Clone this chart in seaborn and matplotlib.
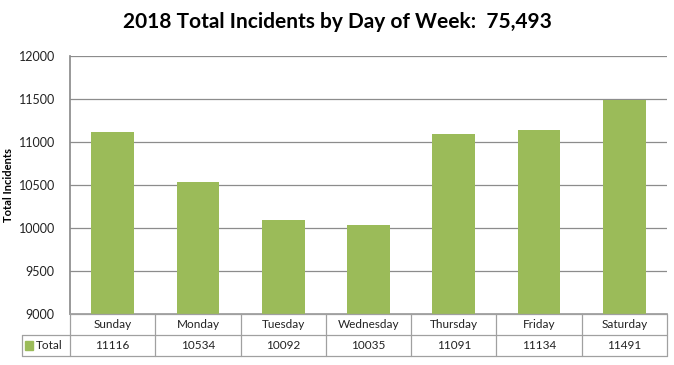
import matplotlib
matplotlib.use("Agg")
import matplotlib.pyplot as plt
import seaborn as sns
import pandas as pd

days = ["Sunday", "Monday", "Tuesday", "Wednesday", "Thursday", "Friday", "Saturday"]
totals = [11116, 10534, 10092, 10035, 11091, 11134, 11491]
yticks = [9000, 9500, 10000, 10500, 11000, 11500, 12000]
title = "2018 Total Incidents by Day of Week:  75,493"
series_name = "Total"

sns.set_theme(style="white")
plt.rcParams["font.family"] = ["Lato", "DejaVu Sans"]

W, H = 674, 365
fig = plt.figure(figsize=(W / 100, H / 100), dpi=100)
green = "#9BBB59"
grid_c = "#8C8C8C"
border_c = "#A0A0A0"

ax_l, ax_r, ax_t, ax_b = 70, 667, 56, 314
ax = fig.add_axes([ax_l / W, 1 - ax_b / H, (ax_r - ax_l) / W, (ax_b - ax_t) / H])
df = pd.DataFrame({"day": days, "total": totals})
sns.barplot(data=df, x="day", y="total", color=green, saturation=1, width=0.5, ax=ax,
            zorder=3, linewidth=0, edgecolor="none")
ax.set_ylim(9000, 12000)
ax.set_xlim(-0.5, len(days) - 0.5)
ax.set_yticks(yticks)
ax.set_yticklabels([str(v) for v in yticks], fontsize=9, color="#222222")
ax.set_xticks([])
ax.set_xlabel("")
ax.set_ylabel("Total Incidents", fontsize=8, fontweight="bold", color="black")
ax.yaxis.set_label_coords((14 - ax_l) / (ax_r - ax_l), 0.5)
ax.yaxis.grid(True, color=grid_c, linewidth=0.9, zorder=0)
ax.tick_params(axis="y", length=0, pad=11)
for s in ["top", "right"]:
    ax.spines[s].set_visible(False)
ax.spines["left"].set_color(grid_c)
ax.spines["bottom"].set_color(border_c)

fig.text(0.5, 1 - 22 / H, title, ha="center", va="center", fontsize=15, fontweight="bold", color="black")

# data table below the plot
tb_l, tb_r, tb_t, tb_b = 22, 667, 314, 356
tx = fig.add_axes([tb_l / W, 1 - tb_b / H, (tb_r - tb_l) / W, (tb_b - tb_t) / H])
cat_w = (ax_r - ax_l) / len(days)
x_left = -0.5 - (ax_l - tb_l) / cat_w
tx.set_xlim(x_left, len(days) - 0.5)
tx.set_ylim(0, 2)
tx.axis("off")
n = len(days)
lw = 0.9
tx.plot([-0.5, n - 0.5], [2, 2], color=border_c, lw=lw, clip_on=False)
tx.plot([x_left, n - 0.5], [1, 1], color=border_c, lw=lw, clip_on=False)
tx.plot([x_left, n - 0.5], [0, 0], color=border_c, lw=lw, clip_on=False)
for i in range(n + 1):
    tx.plot([-0.5 + i, -0.5 + i], [0, 2], color=border_c, lw=lw, clip_on=False)
tx.plot([x_left, x_left], [0, 1], color=border_c, lw=lw, clip_on=False)
for i, (d, v) in enumerate(zip(days, totals)):
    tx.text(i, 1.5, d, ha="center", va="center", fontsize=8.5, color="#222222")
    tx.text(i, 0.5, str(v), ha="center", va="center", fontsize=8.5, color="#222222")
# legend key
kx = x_left + 3 / cat_w
tx.add_patch(plt.Rectangle((kx, 0.3), 8 / cat_w, 0.4, color=green, clip_on=False))
tx.text(kx + 11 / cat_w, 0.5, series_name, ha="left", va="center", fontsize=8.5, color="#222222")

fig.savefig("out.png", dpi=100)
